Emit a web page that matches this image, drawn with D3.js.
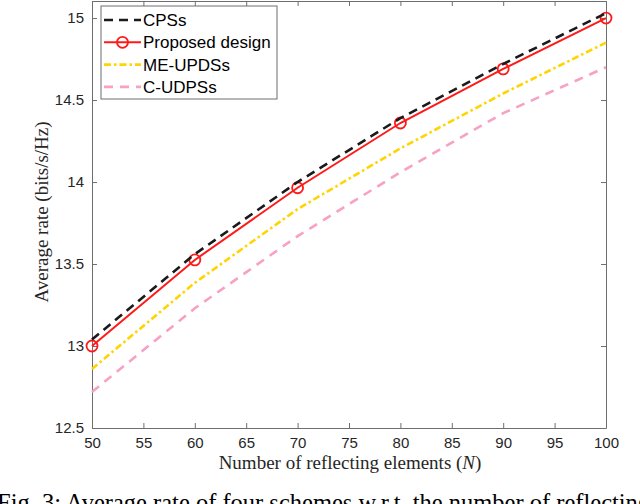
<!DOCTYPE html>
<html>
<head>
<meta charset="utf-8">
<script src="https://cdn.jsdelivr.net/npm/d3@7"></script>
<style>
  body { margin: 0; background: #fff; overflow: hidden; }
  svg { display: block; }
</style>
</head>
<body>
<svg id="chart"></svg>
<script>
// data
var N = [50, 60, 70, 80, 90, 100];
var cps = [13.04, 13.56, 14.0, 14.39, 14.72, 15.03];
var proposed = [13.0, 13.525, 13.965, 14.36, 14.69, 15.0];
var meUpds = [12.86, 13.385, 13.835, 14.205, 14.54, 14.85];
var cUdps = [12.72, 13.23, 13.67, 14.06, 14.42, 14.70];
var xTicks = [50, 55, 60, 65, 70, 75, 80, 85, 90, 95, 100];
var yTicks = [12.5, 13, 13.5, 14, 14.5, 15];
var names = ["CPSs", "Proposed design", "ME-UPDSs", "C-UDPSs"];

var width = 640, height = 504;
var svg = d3.select("#chart").attr("width", width).attr("height", height);

var mLeft = 92, mRight = 606, mTop = 1, mBottom = 428;

var x = d3.scaleLinear().domain([50, 100]).range([mLeft, mRight]);
var y = d3.scaleLinear().domain([12.5, 15.104]).range([mBottom, mTop]);

var series = [
  {name: names[0], vals: cps, color: "#1a1a1a", dash: "9,6", marker: false},
  {name: names[1], vals: proposed, color: "#ff1a1a", dash: null, marker: true},
  {name: names[2], vals: meUpds, color: "#ffd400", dash: "7,3,2.5,3", marker: false},
  {name: names[3], vals: cUdps, color: "#f7a1c4", dash: "9,7", marker: false}
];

var axisColor = "#6e6e6e";
var tickFont = "'Liberation Sans', Arial, sans-serif";
var serif = "'Liberation Serif', 'Times New Roman', serif";

// axes (MATLAB style box, ticks inward)
var gx = svg.append("g").attr("transform", "translate(0," + mBottom + ")")
  .call(d3.axisBottom(x).tickValues(xTicks).tickSizeInner(-5).tickSizeOuter(0).tickPadding(9));
var gy = svg.append("g").attr("transform", "translate(" + mLeft + ",0)")
  .call(d3.axisLeft(y).tickValues(yTicks).tickSizeInner(-5).tickSizeOuter(0).tickPadding(8).tickFormat(d3.format("")));
var gt = svg.append("g").attr("transform", "translate(0," + mTop + ")")
  .call(d3.axisTop(x).tickValues(xTicks).tickSizeInner(-5).tickSizeOuter(0).tickFormat(""));
var gr = svg.append("g").attr("transform", "translate(" + mRight + ",0)")
  .call(d3.axisRight(y).tickValues(yTicks).tickSizeInner(-5).tickSizeOuter(0).tickFormat(""));

[gx, gy, gt, gr].forEach(function(g) {
  g.select(".domain").attr("stroke", axisColor).attr("stroke-width", 1);
  g.selectAll(".tick line").attr("stroke", axisColor);
  g.selectAll(".tick text").attr("fill", "#262626")
    .style("font-family", tickFont).style("font-size", "15px");
});

// lines
var line = d3.line()
  .x(function(d, i) { return x(N[i]); })
  .y(function(d) { return y(d); });

var plot = svg.append("g");
series.slice().reverse().forEach(function(s) {
  plot.append("path")
    .datum(s.vals)
    .attr("d", line)
    .attr("fill", "none")
    .attr("stroke", s.color)
    .attr("stroke-width", s.dash ? 2.6 : 2)
    .attr("stroke-dasharray", s.dash);
  if (s.marker) {
    plot.selectAll(null)
      .data(s.vals)
      .enter().append("circle")
      .attr("cx", function(d, i) { return x(N[i]); })
      .attr("cy", function(d) { return y(d); })
      .attr("r", 5.5)
      .attr("fill", "none")
      .attr("stroke", s.color)
      .attr("stroke-width", 1.8);
  }
});

// legend
var legend = svg.append("g").attr("transform", "translate(101,6)");
legend.append("rect")
  .attr("width", 176).attr("height", 93)
  .attr("fill", "#fff").attr("stroke", axisColor).attr("stroke-width", 1);
var ls = legend.selectAll("g.item").data(series).enter().append("g")
  .attr("class", "item")
  .attr("transform", function(d, i) { return "translate(0," + (14 + i * 22.3) + ")"; });
ls.append("line")
  .attr("x1", 3).attr("x2", 40).attr("y1", 0).attr("y2", 0)
  .attr("stroke", function(d) { return d.color; })
  .attr("stroke-width", function(d) { return d.dash ? 2.6 : 2; })
  .attr("stroke-dasharray", function(d) { return d.dash; });
ls.filter(function(d) { return d.marker; }).append("circle")
  .attr("cx", 21.5).attr("cy", 0).attr("r", 5.5)
  .attr("fill", "none").attr("stroke", function(d) { return d.color; }).attr("stroke-width", 1.8);
ls.append("text")
  .attr("x", 42).attr("y", 0).attr("dy", "0.35em")
  .style("font-family", tickFont).style("font-size", "17px").attr("fill", "#000")
  .text(function(d) { return d.name; });

// axis labels
var xl = svg.append("text")
  .attr("x", 350).attr("y", 469)
  .attr("text-anchor", "middle")
  .style("font-family", serif).style("font-size", "19px").attr("fill", "#262626");
xl.append("tspan").text("Number of reflecting elements (");
xl.append("tspan").style("font-style", "italic").text("N");
xl.append("tspan").text(")");

svg.append("text")
  .attr("transform", "translate(48,212) rotate(-90)")
  .attr("text-anchor", "middle")
  .style("font-family", serif).style("font-size", "19px").attr("fill", "#262626")
  .text("Average rate (bits/s/Hz)");

// caption (cut off by frame, as in the source)
svg.append("text")
  .attr("x", -3).attr("y", 511)
  .style("font-family", serif).style("font-size", "24.5px").attr("fill", "#000")
  .text("Fig. 3: Average rate of four schemes w.r.t. the number of reflecting elements.");
</script>
</body>
</html>
